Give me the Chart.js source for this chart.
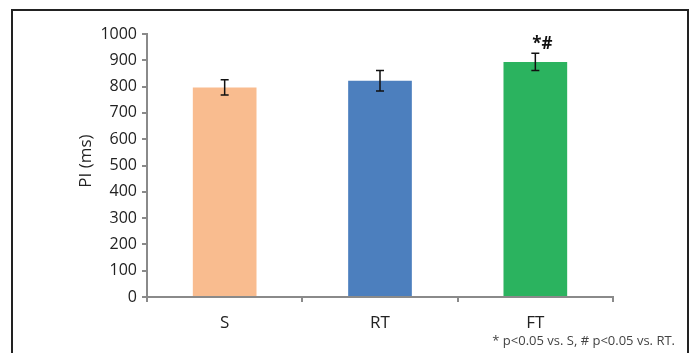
<!DOCTYPE html>
<html>
<head>
<meta charset="utf-8">
<script src="https://cdn.jsdelivr.net/npm/chart.js@4/dist/chart.umd.min.js"></script>
<style>
  html, body { margin: 0; padding: 0; background: #fff; }
  body { width: 691px; height: 353px; position: relative; overflow: hidden; }
  #frame {
    position: absolute; left: 11px; top: 9px; width: 674px; height: 360px;
    border: 2px solid #222; border-bottom: none;
  }
  #wrap { position: absolute; left: 0; top: 0; width: 691px; height: 353px; }
</style>
</head>
<body>
<div id="frame"></div>
<div id="wrap"><canvas id="chart" width="691" height="353"></canvas></div>
<script>
// Chart data
const categories = ['S', 'RT', 'FT'];
const piValues = [797, 822, 894];
const piErrors = [29, 39, 33];
const significance = ['', '', '*#'];
const barColors = ['#F9BC8F', '#4C7FBE', '#2BB35F'];
const yTicks = [0, 100, 200, 300, 400, 500, 600, 700, 800, 900, 1000];
const yTitle = 'PI (ms)';
const footnote = '* p<0.05 vs. S, # p<0.05 vs. RT.';

const fontFamily = '"Open Sans", "Noto Sans", sans-serif';
const axisGray = '#8a8a8a';

// error bars + significance marks + axis title + footnote
const extrasPlugin = {
    id: 'extras',
    afterDatasetsDraw(chart) {
        const { ctx, scales } = chart;
        const meta = chart.getDatasetMeta(0);
        ctx.save();
        ctx.strokeStyle = '#111';
        ctx.lineWidth = 1.5;
        meta.data.forEach((bar, i) => {
            const x = bar.x;
            const yTop = scales.y.getPixelForValue(piValues[i] + piErrors[i]);
            const yBot = scales.y.getPixelForValue(piValues[i] - piErrors[i]);
            ctx.beginPath();
            ctx.moveTo(x, yTop); ctx.lineTo(x, yBot);
            ctx.moveTo(x - 4, yTop); ctx.lineTo(x + 4, yTop);
            ctx.moveTo(x - 4, yBot); ctx.lineTo(x + 4, yBot);
            ctx.stroke();
            if (significance[i]) {
                ctx.fillStyle = '#111';
                ctx.font = 'bold 17px ' + fontFamily;
                ctx.textAlign = 'center';
                ctx.textBaseline = 'bottom';
                ctx.fillText(significance[i], x + 7, yTop - 1);
            }
        });

        // y axis title
        ctx.fillStyle = '#222';
        ctx.font = '17px ' + fontFamily;
        ctx.translate(86, 161);
        ctx.rotate(-Math.PI / 2);
        ctx.textAlign = 'center';
        ctx.textBaseline = 'middle';
        ctx.fillText(yTitle, 0, 0);
        ctx.restore();

        // footnote
        ctx.save();
        ctx.fillStyle = '#444';
        ctx.font = '13px ' + fontFamily;
        ctx.textAlign = 'right';
        ctx.textBaseline = 'alphabetic';
        ctx.fillText(footnote, 675, 345);
        ctx.restore();
    }
};

const ctx = document.getElementById('chart').getContext('2d');
new Chart(ctx, {
    type: 'bar',
    data: {
        labels: categories,
        datasets: [{
            data: piValues,
            backgroundColor: barColors,
            borderWidth: 0,
            barPercentage: 0.41,
            categoryPercentage: 1
        }]
    },
    options: {
        responsive: false,
        animation: false,
        layout: { padding: { left: 0, top: 34, right: 78, bottom: 0 } },
        plugins: {
            legend: { display: false },
            tooltip: { enabled: false }
        },
        scales: {
            x: {
                offset: true,
                grid: {
                    offset: true,
                    drawOnChartArea: false,
                    drawTicks: true,
                    tickLength: 5,
                    color: axisGray,
                    lineWidth: 2
                },
                border: { display: true, color: axisGray, width: 2 },
                ticks: {
                    color: '#222',
                    padding: 11,
                    font: { family: fontFamily, size: 17 }
                },
                afterFit(scale) { scale.height = 56; }
            },
            y: {
                min: 0,
                max: 1000,
                afterBuildTicks(scale) { scale.ticks = yTicks.map(v => ({ value: v })); },
                grid: {
                    drawOnChartArea: false,
                    drawTicks: true,
                    tickLength: 5,
                    color: axisGray,
                    lineWidth: 2
                },
                border: { display: true, color: axisGray, width: 2 },
                ticks: {
                    color: '#222',
                    padding: 5,
                    font: { family: fontFamily, size: 16 },
                    callback: (v) => String(v)
                },
                afterFit(scale) { scale.width = 147; }
            }
        }
    },
    plugins: [extrasPlugin]
});
</script>
</body>
</html>
